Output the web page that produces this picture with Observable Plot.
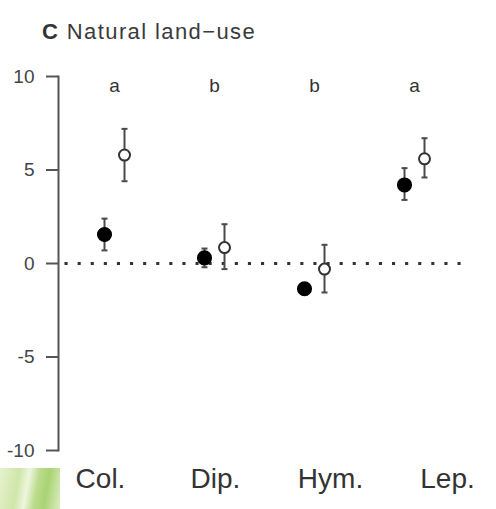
<!DOCTYPE html>
<html>
<head>
<meta charset="utf-8">
<script src="https://cdn.jsdelivr.net/npm/d3@7"></script>
<script src="https://cdn.jsdelivr.net/npm/@observablehq/plot@0.6"></script>
<style>
  html, body { margin: 0; padding: 0; background: #fff; }
  #wrap { position: relative; width: 496px; height: 509px; overflow: hidden; font-family: Arial, "Liberation Sans", sans-serif; }
  #title { position: absolute; left: 42px; top: 21px; font-size: 22px; line-height: 1; color: #3a3a3a; letter-spacing: 1.4px; white-space: nowrap; }
  #title b { color: #333; }
  #deco { position: absolute; left: 0; top: 468px; width: 60px; height: 41px;
    background: linear-gradient(100deg, #e6f2cf 0%, #cfe6a8 30%, #eef6df 45%, #bcdc8c 60%, #a9d374 75%, #dcedc2 100%); }
  #plot { position: absolute; left: 0; top: 0; }
</style>
</head>
<body>
<div id="wrap">
  <div id="deco"></div>
  <div id="plot"></div>
  <div id="title"><b>C</b> Natural land&minus;use</div>
</div>
<script>
const categories = ["Col.", "Dip.", "Hym.", "Lep."];
const letters = ["a", "b", "b", "a"];
// filled circles
const filledMean = [1.55, 0.3, -1.35, 4.2];
const filledLow  = [0.7, -0.2, -1.6, 3.4];
const filledHigh = [2.4, 0.8, -1.1, 5.1];
// open circles
const openMean = [5.8, 0.85, -0.3, 5.6];
const openLow  = [4.4, -0.3, -1.55, 4.6];
const openHigh = [7.2, 2.1, 1.0, 6.7];
const yTicks = [-10, -5, 0, 5, 10];

const filled = categories.map((c, i) => ({cat: c, mean: filledMean[i], lo: filledLow[i], hi: filledHigh[i]}));
const open = categories.map((c, i) => ({cat: c, mean: openMean[i], lo: openLow[i], hi: openHigh[i]}));
const letterData = categories.map((c, i) => ({cat: c, letter: letters[i], y: 9.5}));

const capSymbol = {
  draw(ctx, size) {
    const r = Math.sqrt(size / Math.PI);
    ctx.moveTo(-r, 0);
    ctx.lineTo(r, 0);
  }
};

const off = 10;
const barColor = "#4a4a4a";

function bars(data, dx) {
  return [
    Plot.ruleX(data, {x: "cat", y1: "lo", y2: "hi", dx, stroke: barColor, strokeWidth: 2}),
    Plot.dot(data, {x: "cat", y: "lo", dx, symbol: capSymbol, r: 3, stroke: barColor, strokeWidth: 2}),
    Plot.dot(data, {x: "cat", y: "hi", dx, symbol: capSymbol, r: 3, stroke: barColor, strokeWidth: 2})
  ];
}

const labelOffsets = [-14, 1, 16, 33];

const chart = Plot.plot({
  width: 496,
  height: 509,
  marginTop: 76,
  marginBottom: 59,
  marginLeft: 58,
  marginRight: 26,
  style: {fontFamily: "Arial, 'Liberation Sans', sans-serif", background: "transparent"},
  x: {type: "point", domain: categories, padding: 0.56, axis: null},
  y: {domain: [-10, 10], axis: null},
  marks: [
    Plot.ruleY([0], {insetLeft: 8, insetRight: 4, stroke: "#333", strokeWidth: 3, strokeDasharray: "0.1,13", strokeLinecap: "square"}),
    Plot.axisY({ticks: yTicks, tickSize: 12, tickPadding: 12, tickFormat: d => d < 0 ? "-" + Math.abs(d) : String(d), fontSize: 19, stroke: "#555", strokeWidth: 2, fill: "#444"}),
    Plot.frame({anchor: "left", stroke: "#555", strokeWidth: 2}),
    ...bars(filled, -off),
    ...bars(open, off),
    Plot.dot(filled, {x: "cat", y: "mean", dx: -off, r: 6.8, fill: "#000", stroke: "#000"}),
    Plot.dot(open, {x: "cat", y: "mean", dx: off, r: 5.5, fill: "#fff", stroke: "#333", strokeWidth: 2}),
    Plot.text(letterData, {x: "cat", y: "y", text: "letter", fontSize: 19, fill: "#333"}),
    ...categories.map((c, i) => Plot.text([c], {x: d => d, frameAnchor: "bottom", dy: 37, dx: labelOffsets[i], text: d => d, fontSize: 28, fill: "#333"}))
  ]
});

document.getElementById("plot").appendChild(chart);
</script>
</body>
</html>
